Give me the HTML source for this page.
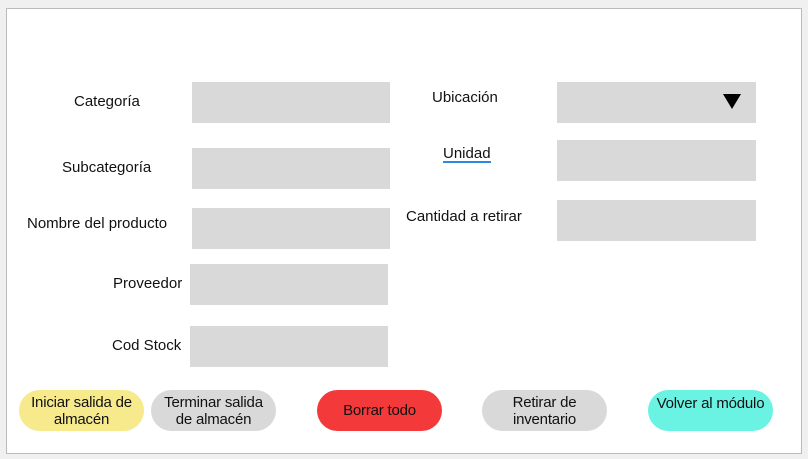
<!DOCTYPE html>
<html><head><meta charset="utf-8"><style>
body{margin:0;width:808px;height:459px;background:#f0f0f0;position:relative;font-family:"Liberation Sans",sans-serif;font-size:15px;color:#111;overflow:hidden}
.frame{position:absolute;left:6px;top:8px;width:794px;height:444px;background:#fff;border:1px solid #bbb}
.b{position:absolute;background:#d9d9d9}
.t{position:absolute;white-space:nowrap;line-height:17px}
.btn{position:absolute;top:390px;height:41px;width:125px;border-radius:21px;display:flex;align-items:center;justify-content:center;text-align:center;line-height:17px;letter-spacing:-0.2px}
</style></head><body>
<div class="frame"></div>
<div class="b" style="left:192px;top:82px;width:198px;height:41px"></div>
<div class="b" style="left:192px;top:148px;width:198px;height:41px"></div>
<div class="b" style="left:192px;top:208px;width:198px;height:41px"></div>
<div class="b" style="left:190px;top:264px;width:198px;height:41px"></div>
<div class="b" style="left:190px;top:326px;width:198px;height:41px"></div>
<div class="b" style="left:557px;top:82px;width:199px;height:41px"></div>
<div class="b" style="left:557px;top:140px;width:199px;height:41px"></div>
<div class="b" style="left:557px;top:200px;width:199px;height:41px"></div>
<svg style="position:absolute;left:723px;top:94px" width="18" height="16"><polygon points="0,0 18,0 9,15" fill="#000"/></svg>
<div class="t" style="left:74px;top:93px">Categoría</div>
<div class="t" style="left:62px;top:159px">Subcategoría</div>
<div class="t" style="left:27px;top:215px">Nombre del producto</div>
<div class="t" style="left:113px;top:275px">Proveedor</div>
<div class="t" style="left:112px;top:337px">Cod Stock</div>
<div class="t" style="left:432px;top:89px">Ubicación</div>
<div class="t" style="left:443px;top:146px;border-bottom:2px solid #2a8ae0;line-height:15px">Unidad</div>
<div class="t" style="left:406px;top:208px">Cantidad a retirar</div>
<div class="btn" style="left:19px;background:#f6ea8c">Iniciar salida de<br>almacén</div>
<div class="btn" style="left:151px;background:#d9d9d9">Terminar salida<br>de almacén</div>
<div class="btn" style="left:317px;background:#f4393b">Borrar todo</div>
<div class="btn" style="left:482px;background:#d9d9d9">Retirar de<br>inventario</div>
<div class="btn" style="left:648px;background:#6af2e2;align-items:flex-start;padding-top:5px;height:36px">Volver al módulo</div>
</body></html>
